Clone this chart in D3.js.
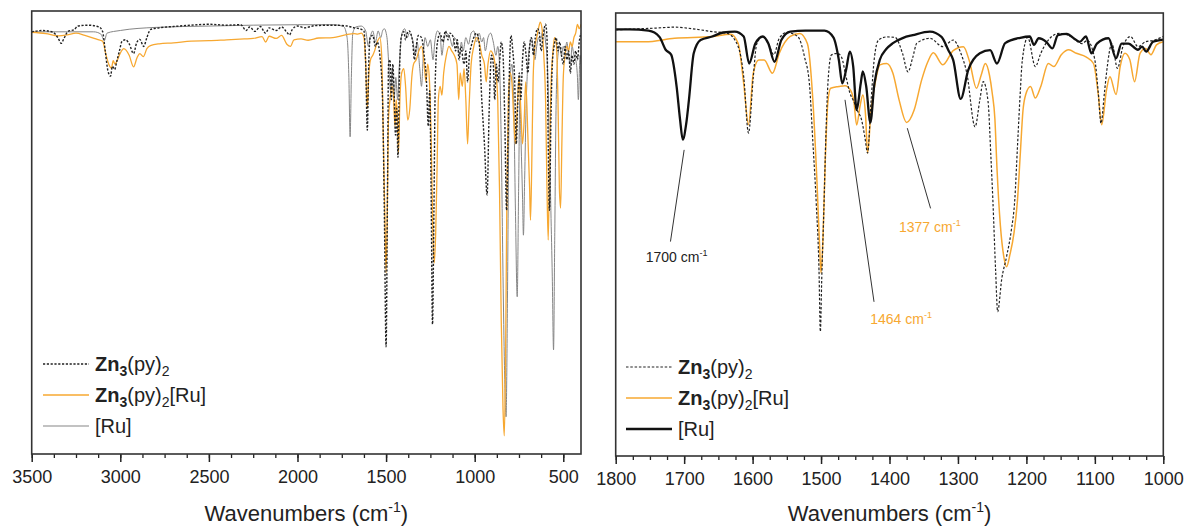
<!DOCTYPE html>
<html>
<head>
<meta charset="utf-8">
<script src="https://cdn.jsdelivr.net/npm/d3@7"></script>
<style>
  body { margin: 0; background: #fff; }
  svg { display: block; font-family: Arial, "Liberation Sans", sans-serif; }
</style>
</head>
<body>
<svg id="chart" width="1186" height="529"></svg>
<script>
// ---- data: [wavenumber (cm-1), transmittance (%)] ----
var leftZn = [[3500,95.3],[3440,95.6],[3380,95.2],[3350,93.8],[3334,92.7],[3318,93.8],[3295,95.4],[3260,95.8],[3240,96.6],[3180,96.8],[3120,96.4],[3100,95.4],[3085,91],[3070,86.5],[3055,85.3],[3045,87.5],[3032,86.8],[3020,88.6],[3005,91],[2990,93.2],[2970,93.5],[2950,92.6],[2925,90.4],[2908,92.8],[2890,93.6],[2868,92],[2850,94],[2830,95.8],[2780,96.2],[2700,96.5],[2600,96.8],[2500,97],[2400,96.8],[2320,96.9],[2290,95.6],[2270,96.4],[2240,95.4],[2210,96.5],[2180,95],[2160,96.2],[2120,95.6],[2090,96.4],[2060,95.2],[2045,94.6],[2030,95.8],[2000,96.6],[1960,96.2],[1900,96.7],[1800,96.8],[1720,96.6],[1680,96.2],[1650,96],[1625,95.5],[1615,88],[1606,73.1],[1598,88],[1590,94],[1575,94.5],[1560,92],[1550,93],[1535,90],[1520,80],[1510,55],[1500,24.2],[1492,60],[1486,88],[1478,89],[1470,80],[1462,88],[1455,82],[1447,72],[1440,78],[1433,67],[1425,85],[1415,94],[1400,95.3],[1390,93.5],[1380,95],[1370,95.5],[1350,93],[1340,89],[1330,92],[1318,94.5],[1300,94],[1285,90],[1272,84],[1262,74],[1254,82],[1246,60],[1238,29.3],[1230,55],[1222,85],[1210,93],[1195,95],[1180,93],[1165,95.5],[1150,93.5],[1140,95],[1120,94],[1108,91],[1098,93.5],[1088,89],[1078,92],[1060,88],[1050,91],[1040,84],[1030,90],[1020,92],[1005,94],[990,95],[975,93],[960,80],[945,70],[930,58.5],[918,78],[905,90],[895,88],[887,80],[878,88],[868,84],[860,88],[850,93],[840,90],[830,75],[820,55],[812,70],[805,85],[795,94.5],[785,91],[775,85],[765,70],[758,78],[748,86],[740,80],[730,89],[720,93],[710,90],[700,86],[690,92],[680,94],[668,90],[658,94],[645,96],[635,95],[625,91],[615,94],[600,97],[592,94],[585,70],[578,55],[570,75],[562,88],[552,92],[540,94],[530,91],[520,93],[510,90],[500,88],[490,92],[480,89],[470,91],[460,86],[450,90],[440,88],[430,91],[420,89],[410,93],[400,95]];

var leftZnRu = [[3500,95.2],[3420,94.9],[3350,94.4],[3300,94.6],[3250,95],[3200,94.5],[3130,93.6],[3100,93.2],[3080,90],[3065,88],[3050,87.1],[3040,88.8],[3030,88],[3020,88.6],[3000,90.5],[2980,91.5],[2950,90],[2925,87.4],[2905,89.5],[2890,90.4],[2870,89.7],[2850,91.5],[2830,92.2],[2780,92.6],[2700,92.8],[2600,93.2],[2500,93.3],[2400,93.5],[2300,93.7],[2250,93.8],[2200,94.2],[2180,93],[2160,94.3],[2120,93.8],[2090,94.5],[2060,92.5],[2040,92],[2020,93.5],[1980,93.7],[1940,93.4],[1880,93.9],[1800,94],[1730,94.6],[1680,94.9],[1660,94.8],[1640,95],[1625,94],[1615,88],[1606,78],[1597,86],[1588,89],[1575,90],[1565,91],[1550,93],[1535,94],[1525,90],[1515,70],[1505,50],[1500,40.9],[1493,55],[1487,75],[1478,80],[1468,83],[1460,82],[1450,74],[1443,80],[1437,77],[1430,67.9],[1422,80],[1412,86],[1400,87],[1390,83],[1378,75.4],[1366,78],[1355,85],[1345,88],[1330,89],[1315,91],[1300,92],[1285,88],[1275,84],[1265,88],[1255,84],[1245,70],[1236,50],[1228,43.1],[1220,50],[1212,65],[1205,80],[1195,83],[1185,81],[1175,86],[1160,90],[1145,92],[1130,91],[1115,90],[1100,88],[1090,80],[1082,86],[1070,83],[1060,87],[1050,80],[1040,70],[1032,78],[1020,88],[1005,92],[990,94],[975,93],[960,90],[945,88],[935,84],[925,88],[910,91],[895,90],[880,86],[870,80],[860,60],[850,30],[840,10],[833,4.1],[826,20],[818,60],[810,80],[800,86],[790,84],[780,76],[770,70],[760,78],[750,85],[740,78],[730,70],[720,76],[712,84],[700,72],[690,60],[685,52.8],[678,65],[670,85],[660,92],[650,94],[640,96],[630,97.5],[620,96],[610,90],[600,80],[592,60],[585,48.3],[578,65],[570,82],[560,90],[550,94],[540,93],[530,80],[522,60],[515,55.5],[508,70],[500,85],[490,90],[480,92],[470,91],[460,93],[450,92],[440,94],[430,95],[420,97],[410,96],[400,97]];

var leftRu = [[3500,95.3],[3300,95.3],[3150,95.3],[3110,94.8],[3090,93.3],[3075,95],[3000,95.6],[2800,96.3],[2500,96.6],[2000,96.9],[1800,96.9],[1740,96.5],[1720,94],[1710,85],[1703,71.6],[1696,85],[1688,95],[1670,96.4],[1640,96.6],[1615,95.5],[1600,92],[1590,94],[1575,95.5],[1560,93],[1545,95.5],[1530,94],[1520,95.5],[1510,96],[1495,94],[1485,88],[1475,82],[1465,87],[1455,80],[1445,85],[1435,80],[1425,88],[1410,95],[1395,96],[1380,94],[1370,95],[1350,93.5],[1335,90],[1325,93],[1310,87],[1300,83],[1290,90],[1280,94],[1265,92],[1250,93.5],[1235,89],[1225,93],[1210,95.5],[1195,94.5],[1185,90],[1175,93],[1160,95],[1140,94],[1125,92],[1115,94],[1100,93],[1085,90],[1075,93],[1065,91],[1050,94],[1035,92.5],[1020,95],[1005,95.5],[990,93],[975,95],[960,93],[950,94],[940,91],[925,94],[910,95],[895,93],[880,90],[870,92],[860,88],[850,70],[840,40],[832,20],[823,8.4],[815,35],[808,70],[800,85],[790,88],[780,80],[770,55],[760,35.5],[752,60],[745,80],[738,70],[730,58],[725,49.4],[718,62],[710,78],[700,88],[690,92],[680,94],[670,92],[660,89],[650,92],[640,94],[630,93],[620,95],[610,96],[600,93],[590,88],[578,70],[570,55],[562,40],[555,23.5],[548,50],[540,80],[530,90],[520,92],[510,90],[500,92],[490,91],[480,93],[470,90],[460,88],[450,92],[440,90],[430,89],[420,85],[415,80],[405,90],[400,88]];

var rightZn = [[1800,96.2],[1741,96.6],[1714,96.8],[1681,96.3],[1659,95.8],[1637,95.4],[1621,92.4],[1613,85.6],[1606,72.9],[1599,85.6],[1594,93.0],[1585,94.7],[1577,93.1],[1569,90.6],[1561,94.3],[1550,95.6],[1534,94.7],[1524,90],[1517,84],[1512,71],[1507,57],[1503,42],[1501,28.1],[1499,40],[1496,55],[1493,72],[1490,84],[1485,90.5],[1476,90.9],[1470,90],[1464,86],[1458,82],[1452,80],[1447,78],[1441,76],[1436,72],[1432,68.4],[1427,80],[1422,90],[1416,93.9],[1404,94.6],[1392,94.5],[1381,90.9],[1373,86.7],[1366,90],[1360,93.2],[1341,94.3],[1322,92.4],[1307,93.9],[1296,91],[1287,86.4],[1275,74.3],[1268,80.4],[1263,84.5],[1256,80],[1252,68],[1249,57.8],[1245,42],[1242,32.6],[1236,40],[1229,45],[1222,51],[1217,57.8],[1213,70],[1209,82],[1206,89.3],[1198,94.5],[1187,87.9],[1179,90.9],[1168,93.9],[1152,95.4],[1135,94.7],[1119,93.1],[1111,93.8],[1100,89.4],[1095,82],[1091,75.1],[1086,82],[1083,86.4],[1075,93.1],[1067,87.5],[1059,92.4],[1048,94.7],[1037,92.4],[1026,93.5],[1015,93.8],[1000,94.7]];

var rightZnRu = [[1800,93.5],[1757,93.5],[1714,94.3],[1659,94.7],[1632,95.2],[1621,93.1],[1613,84.1],[1606,74.8],[1599,86.4],[1591,89.4],[1583,89.4],[1571,86.4],[1561,90.9],[1545,94.7],[1531,95.4],[1520,93.1],[1512,80.4],[1506,62],[1502,47],[1500,41.3],[1497,50],[1494,66],[1490,80],[1486,83],[1474,83.4],[1465,83.6],[1457,82.6],[1452,80],[1448,74.7],[1443,79],[1439,81.5],[1435,77],[1432,68.4],[1427,78],[1420,85],[1414,88.3],[1404,88.6],[1395,86.4],[1386,80.4],[1375,75.3],[1364,78.1],[1353,84.9],[1344,89],[1336,91],[1322,88.3],[1307,91.5],[1292,92.4],[1283,89],[1273,83],[1266,86],[1260,88.6],[1254,86],[1250,82],[1246,76],[1243,65],[1238,52],[1233,45],[1229,42.7],[1224,45.5],[1218,50.5],[1213,57.8],[1209,68],[1205,78],[1201,81.6],[1194,83.4],[1187,80.8],[1179,83.4],[1168,88.6],[1160,87.9],[1149,90.6],[1138,91.7],[1127,90.9],[1113,90.1],[1102,88.6],[1095,81.6],[1090,74.8],[1083,82.6],[1078,85.6],[1069,81.6],[1063,87.9],[1056,90.9],[1049,89.5],[1042,84.5],[1034,90.9],[1026,92.0],[1018,90.6],[1010,92.8],[1000,93.5]];

var rightRu = [[1800,96.3],[1780,96.3],[1752,96.0],[1736,94.6],[1727,91.7],[1719,90.6],[1711,83.4],[1706,76],[1702,71.4],[1697,75],[1693,80.4],[1686,90.9],[1676,93.9],[1659,94.7],[1643,95.6],[1626,95.8],[1613,94.7],[1605,88.6],[1596,93.1],[1585,94.7],[1577,93.1],[1568,89.0],[1558,93.9],[1545,95.8],[1523,96.0],[1495,96.0],[1482,94.5],[1474,89.4],[1469,84.1],[1463,87.5],[1458,91.3],[1453,87.9],[1448,78.1],[1442,84.1],[1439,86.8],[1434,83.4],[1428,75.3],[1422,84.1],[1414,89.5],[1405,91.8],[1395,93.2],[1380,94.4],[1366,95.0],[1341,95.8],[1324,94.6],[1314,91.6],[1307,89.4],[1296,80.6],[1285,87.1],[1268,90.9],[1253,91.6],[1243,88.6],[1231,93.2],[1209,94.4],[1195,94.7],[1189,92.8],[1182,94.3],[1171,93.5],[1162,92.0],[1154,95.0],[1141,95.3],[1130,94.2],[1122,93.5],[1113,94.7],[1105,90.9],[1097,93.1],[1080,94.3],[1069,89.8],[1061,93.1],[1051,93.1],[1037,91.7],[1031,92.4],[1025,91.3],[1015,93.5],[1000,94.0]];

var leftTicks = [3500, 3000, 2500, 2000, 1500, 1000, 500];
var leftMinor = d3.range(3500, 399, -125);
var rightTicks = [1800, 1700, 1600, 1500, 1400, 1300, 1200, 1100, 1000];
var rightMinor = d3.range(1800, 999, -25);

// peak labels in the zoomed panel
var peakLabels = ["1700", "1464", "1377"];

var orange = "#f7a831";

// legend label parts: [text, bold?, subscript?]
var legendZn = [["Zn", 1, 0], ["3", 1, 1], ["(py)", 0, 0], ["2", 0, 1]];
var legendZnRu = legendZn.concat([["[Ru]", 0, 0]]);
var legendRu = [["[Ru]", 0, 0]];

var svg = d3.select("#chart");

function drawPanel(cfg) {
    var x = d3.scaleLinear().domain(cfg.xDomain).range(cfg.xRange);
    var y = d3.scaleLinear().domain([0, 100]).range(cfg.yRange);
    var g = svg.append("g");

    var clipId = "clip" + cfg.id;
    svg.append("clipPath").attr("id", clipId)
        .append("rect")
        .attr("x", cfg.xRange[0]).attr("y", cfg.yRange[1])
        .attr("width", cfg.xRange[1] - cfg.xRange[0])
        .attr("height", cfg.yRange[0] - cfg.yRange[1]);

    var line = d3.line()
        .x(d => x(d[0]))
        .y(d => y(d[1]))
        .curve(d3.curveMonotoneX);

    // spectra, drawn in their z order (legend keeps its own order)
    var plot = g.append("g").attr("clip-path", `url(#${clipId})`);
    cfg.series.slice().sort((a, b) => a.z - b.z).forEach(s => {
        plot.append("path")
            .attr("d", line(s.data))
            .attr("fill", "none")
            .attr("stroke", s.color)
            .attr("stroke-width", s.width)
            .attr("stroke-dasharray", s.dash || null)
            .attr("stroke-linejoin", "round");
    });

    // minor + major ticks
    g.append("g")
        .attr("transform", `translate(0,${cfg.yRange[0]})`)
        .call(d3.axisBottom(x).tickValues(cfg.minor).tickSize(4).tickFormat(""))
        .call(a => a.select(".domain").remove())
        .selectAll("line").attr("stroke", "#222").attr("stroke-width", 1.3);
    var ax = g.append("g")
        .attr("transform", `translate(0,${cfg.yRange[0]})`)
        .call(d3.axisBottom(x).tickValues(cfg.ticks).tickSize(8).tickPadding(8).tickFormat(d3.format("d")));
    ax.select(".domain").remove();
    ax.selectAll("line").attr("stroke", "#222").attr("stroke-width", 1.5);
    ax.selectAll("text")
        .attr("fill", "#222")
        .style("font-size", "18px")
        .style("font-family", "Arial, 'Liberation Sans', sans-serif");

    // frame
    g.append("rect")
        .attr("x", cfg.xRange[0]).attr("y", cfg.yRange[1])
        .attr("width", cfg.xRange[1] - cfg.xRange[0])
        .attr("height", cfg.yRange[0] - cfg.yRange[1])
        .attr("fill", "none")
        .attr("stroke", "#333")
        .attr("stroke-width", 1.6);

    // axis title
    var t = g.append("text")
        .attr("x", (cfg.xRange[0] + cfg.xRange[1]) / 2)
        .attr("y", 521)
        .attr("text-anchor", "middle")
        .attr("fill", "#222")
        .style("font-size", "22px")
        .text("Wavenumbers (cm");
    t.append("tspan").attr("dy", -9).style("font-size", "14px").text("-1");
    t.append("tspan").attr("dy", 9).text(")");

    // legend
    var lg = g.append("g");
    cfg.series.forEach((s, i) => {
        var ly = cfg.legendY + i * 31;
        lg.append("line")
            .attr("x1", cfg.legendX).attr("x2", cfg.legendX + 46)
            .attr("y1", ly).attr("y2", ly)
            .attr("stroke", s.color)
            .attr("stroke-width", s.width)
            .attr("stroke-dasharray", s.dash || null);
        var txt = lg.append("text")
            .attr("x", cfg.legendX + 52)
            .attr("y", ly + 7)
            .attr("fill", "#222")
            .style("font-size", "20px");
        var shifted = 0;
        s.label.forEach(p => {
            var sub = p[2] ? 5 : 0;
            var ts = txt.append("tspan").text(p[0])
                .attr("font-weight", p[1] ? "bold" : "normal");
            if (sub) ts.style("font-size", "14px");
            if (sub - shifted) ts.attr("dy", sub - shifted);
            shifted = sub;
        });
    });
    return { x: x, y: y, g: g };
}

drawPanel({
    id: "L",
    xDomain: [3500, 400], xRange: [31.7, 581],
    yRange: [454, 11],
    ticks: leftTicks, minor: leftMinor,
    legendX: 43, legendY: 364,
    series: [
        { data: leftZn, color: "#222", width: 1.4, dash: "2.2,1.6", label: legendZn, z: 3 },
        { data: leftZnRu, color: orange, width: 1.3, label: legendZnRu, z: 2 },
        { data: leftRu, color: "#858585", width: 1, label: legendRu, z: 1 }
    ]
});

var right = drawPanel({
    id: "R",
    xDomain: [1800, 1000], xRange: [615.7, 1163.3],
    yRange: [456, 13],
    ticks: rightTicks, minor: rightMinor,
    legendX: 626, legendY: 367,
    series: [
        { data: rightZn, color: "#222", width: 1.2, dash: "2.5,1.8", label: legendZn, z: 2 },
        { data: rightZnRu, color: orange, width: 1.5, label: legendZnRu, z: 1 },
        { data: rightRu, color: "#111", width: 2.3, label: legendRu, z: 3 }
    ]
});

// peak annotations (right panel), anchored in data units
var annot = [
    { label: peakLabels[0], from: [1700, 69.1], to: [1720, 48.4], text: [1711, 43.8], color: "#222" },
    { label: peakLabels[1], from: [1465, 80.4], to: [1422.6, 34.8], text: [1383, 29.8], color: orange },
    { label: peakLabels[2], from: [1374, 74.0], to: [1340, 55.9], text: [1341, 50.6], color: orange }
];
annot.forEach(a => {
    right.g.append("line")
        .attr("x1", right.x(a.from[0])).attr("y1", right.y(a.from[1]))
        .attr("x2", right.x(a.to[0])).attr("y2", right.y(a.to[1]))
        .attr("stroke", "#333").attr("stroke-width", 1);
    var t = right.g.append("text")
        .attr("x", right.x(a.text[0])).attr("y", right.y(a.text[1]))
        .attr("text-anchor", "middle")
        .attr("fill", a.color)
        .style("font-size", "14px")
        .text(a.label + " cm");
    t.append("tspan").attr("dy", -6).style("font-size", "9px").text("-1");
});
</script>
</body>
</html>
